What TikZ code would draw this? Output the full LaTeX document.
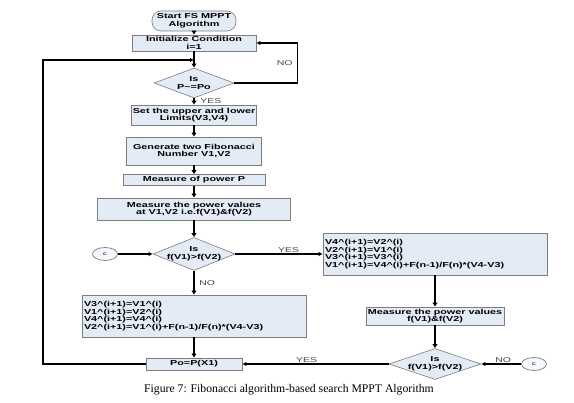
\documentclass[tikz,border=0pt]{standalone}
\usepackage{fontspec}
\setmainfont{Liberation Sans}
\newfontfamily\boxfont[FakeStretch=1.5]{Liberation Sans}
\newfontfamily\capfont{Liberation Serif}
\usetikzlibrary{shapes.geometric,arrows.meta}
\definecolor{boxfill}{RGB}{227,235,246}
\definecolor{boxline}{RGB}{125,125,125}
\definecolor{labgray}{RGB}{70,70,70}
\tikzset{
  boxtxt/.style={font=\boxfont\bfseries\fontsize{7.2}{7.6}\selectfont,align=center,inner sep=0pt},
  block/.style={boxtxt,draw=boxline,fill=boxfill,line width=0.6pt},
  cond/.style={diamond,draw=boxline,fill=boxfill,line width=0.6pt,inner sep=0pt},
  conn/.style={ellipse,draw=boxline,fill=boxfill!40,line width=0.7pt,minimum width=25pt,minimum height=13pt,inner sep=0pt,font=\boxfont\fontsize{5}{5}\selectfont},
  flow/.style={->,>={Latex[length=4pt,width=5.5pt]},line width=2.8pt},
  thinflow/.style={->,>={Latex[length=4pt,width=4.5pt]},line width=1.6pt},
  lab/.style={font=\boxfont\fontsize{7}{7}\selectfont,text=labgray,inner sep=1pt},
}
\begin{document}
\begin{tikzpicture}[x=1pt,y=-1pt]
\useasboundingbox (0,0) rectangle (574,403);
%% main column
\node[block,rounded corners=9pt,minimum width=84,minimum height=20] (start) at (194,21) {Start FS MPPT\\Algorithm};
\node[block,minimum width=124,minimum height=16] (init) at (194,43) {Initialize Condition\\i=1};
\node[cond,minimum width=80,minimum height=30] (d1) at (194,83) {};
\node[boxtxt] (d1t) at (194,83) {Is\\P\textasciitilde=Po};
\node[block,minimum width=125,minimum height=20] (set) at (194,115) {Set the upper and lower\\Limits(V3,V4)};
\node[block,minimum width=135,minimum height=28] (gen) at (194,151) {Generate two Fibonacci\\Number V1,V2};
\node[block,minimum width=142,minimum height=11] (measP) at (194,180) {Measure of power P};
\node[block,minimum width=193,minimum height=22] (measV) at (194,209) {Measure the power values\\at V1,V2 i.e.f(V1)\&f(V2)};
\node[cond,minimum width=82,minimum height=33] (d2) at (194,254) {};
\node[boxtxt] (d2t) at (194,254) {Is\\f(V1)>f(V2)};
\node[conn] (c1) at (105,254) {c};
\node[block,align=left,text width=220,inner sep=2pt,minimum height=42] (left) at (194,316)
  {V3\textasciicircum(i+1)=V1\textasciicircum(i)\\V1\textasciicircum(i+1)=V2\textasciicircum(i)\\V4\textasciicircum(i+1)=V4\textasciicircum(i)\\V2\textasciicircum(i+1)=V1\textasciicircum(i)+F(n-1)/F(n)*(V4-V3)};
\node[block,minimum width=96,minimum height=12] (Po) at (194,364) {Po=P(X1)};
%% right column
\node[block,align=left,text width=220,inner sep=2pt,minimum height=42] (right) at (435,254)
  {V4\textasciicircum(i+1)=V2\textasciicircum(i)\\V2\textasciicircum(i+1)=V1\textasciicircum(i)\\V3\textasciicircum(i+1)=V3\textasciicircum(i)\\V1\textasciicircum(i+1)=V4\textasciicircum(i)+F(n-1)/F(n)*(V4-V3)};
\node[block,minimum width=138,minimum height=18] (meas2) at (435,316) {Measure the power values\\f(V1)\&f(V2)};
\node[cond,minimum width=92,minimum height=31] (d3) at (435,364) {};
\node[boxtxt] (d3t) at (435,364) {Is\\f(V1)>f(V2)};
\node[conn] (c2) at (534,364) {c};
\coordinate (join) at (194,60);
%% connectors
\draw[flow] (start) -- (init);
\draw[flow] (init) -- (d1);
\draw[flow] (d1) -- node[lab,right=4pt]{YES} (set);
\draw[flow] (set) -- (gen);
\draw[flow] (gen) -- (measP);
\draw[flow] (measP) -- (measV);
\draw[flow] (measV) -- (d2);
\draw[thinflow] (c1) -- (d2);
\draw[thinflow] (d2) -- node[lab,above,pos=0.61]{YES} (right);
\draw[flow] (d2) -- node[lab,right=3pt]{NO} (left);
\draw[flow] (left) -- (Po);
\draw[flow] (right) -- (meas2);
\draw[flow] (meas2) -- (d3);
\draw[thinflow] (c2) -- node[lab,above,pos=0.45]{NO} (d3);
\draw[thinflow] (d3) -- node[lab,above,pos=0.56]{YES} (Po);
\draw[thinflow] (Po.west) -- ++(-103,0) |- (join);
\draw[thinflow] (d1.east) -- ++(63,0) |- node[lab,left=3pt,pos=0.25]{NO} (init.east);
%% caption
\node[font=\capfont\fontsize{11.7}{12}\selectfont,inner sep=0pt] (cap) at (289,390) {Figure 7: Fibonacci algorithm-based search MPPT Algorithm};
\end{tikzpicture}
\end{document}
